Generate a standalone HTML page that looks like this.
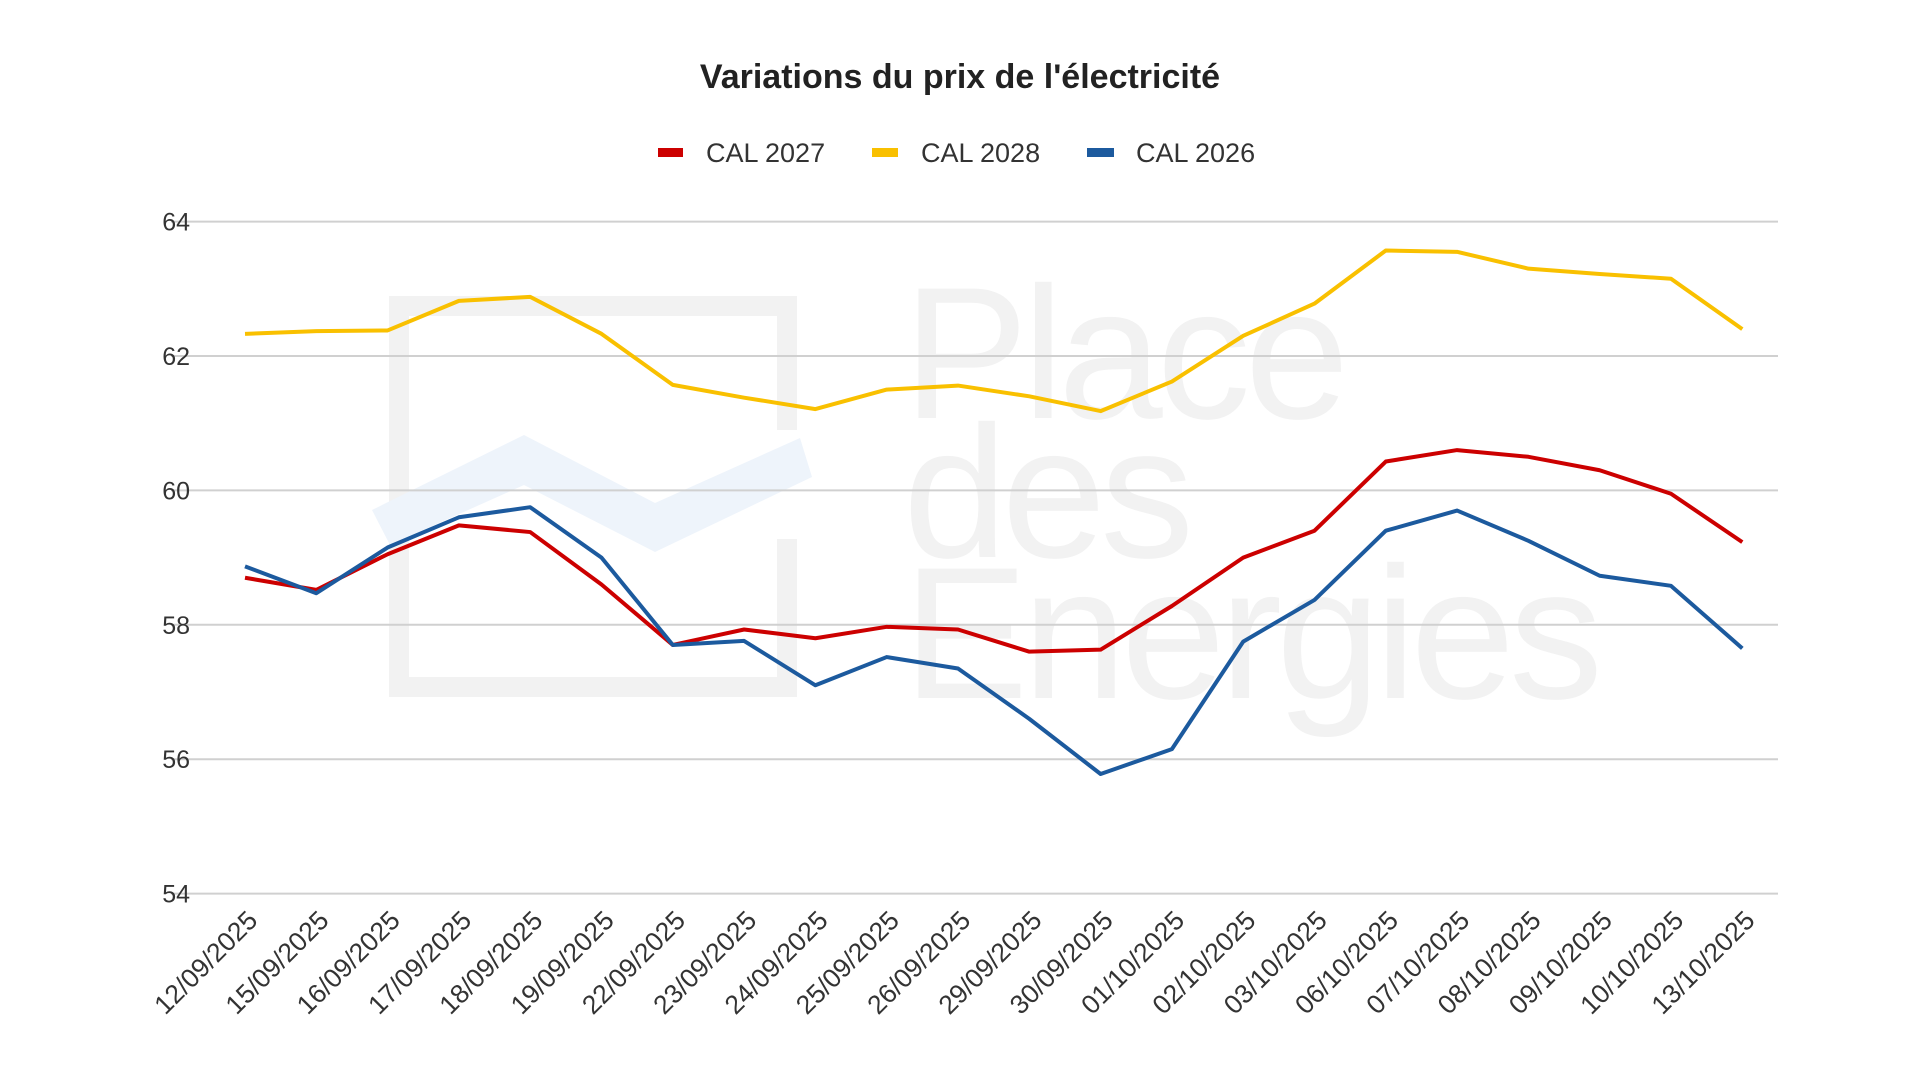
<!DOCTYPE html>
<html><head><meta charset="utf-8"><style>
html,body{margin:0;padding:0;background:#fff;width:1920px;height:1080px;overflow:hidden}
svg{display:block;font-family:"Liberation Sans",Arial,sans-serif}
</style></head><body>
<svg id="c" width="1920" height="1080" viewBox="0 0 1920 1080">
<rect width="1920" height="1080" fill="#fff"/>
<g>
<path d="M787 430 V306 H399 V687 H787 V539" fill="none" stroke="#f2f2f2" stroke-width="20"/>
<path d="M372 510 L524 435 L655 503 L800 438 L812 477 L655 552 L524 485 L390 545 Z" fill="#eef4fb"/>
<text x="903" y="418" font-size="188" fill="#f2f2f2" letter-spacing="-6">Place</text>
<text x="903" y="557" font-size="188" fill="#f2f2f2" letter-spacing="-6">des</text>
<text x="903" y="698" font-size="188" fill="#f2f2f2" letter-spacing="-6">Energies</text>
</g>
<text x="960" y="88" text-anchor="middle" font-size="34" font-weight="bold" fill="#222">Variations du prix de l'électricité</text>
<rect x="658" y="148" width="25" height="9" fill="#cc0000"/>
<text x="706" y="162" font-size="27" fill="#333">CAL 2027</text>
<rect x="872" y="148" width="26" height="9" fill="#f9c000"/>
<text x="921" y="162" font-size="27" fill="#333">CAL 2028</text>
<rect x="1087" y="148" width="27" height="9" fill="#1c5a9e"/>
<text x="1136" y="162" font-size="27" fill="#333">CAL 2026</text>
<g id="grid"></g>
<g id="series"></g>
<g id="xl"></g>
</svg>
<script>
const y=v=>221.6+(64-v)*67.2, x=i=>245+i*71.3;
const ns="http://www.w3.org/2000/svg";
const g=document.getElementById('grid');
for(let v=54;v<=64;v+=2){
 const l=document.createElementNS(ns,'line');
 l.setAttribute('x1',171);l.setAttribute('x2',1778);l.setAttribute('y1',y(v));l.setAttribute('y2',y(v));
 l.setAttribute('stroke','#d0d0d0');l.setAttribute('stroke-width',2);g.appendChild(l);
 const t=document.createElementNS(ns,'text');t.setAttribute('x',190);t.setAttribute('y',y(v)+9);
 t.setAttribute('text-anchor','end');t.setAttribute('font-size',25);t.setAttribute('fill','#333');t.textContent=v;g.appendChild(t);
}
const d={
"#f9c000":[62.33,62.37,62.38,62.82,62.88,62.33,61.57,61.38,61.21,61.5,61.56,61.4,61.18,61.62,62.3,62.78,63.57,63.55,63.3,63.22,63.15,62.4],
"#cc0000":[58.7,58.52,59.05,59.48,59.38,58.6,57.7,57.93,57.8,57.97,57.93,57.6,57.63,58.28,59.0,59.4,60.43,60.6,60.5,60.3,59.95,59.23],
"#1c5a9e":[58.87,58.47,59.15,59.6,59.75,59.0,57.7,57.76,57.1,57.52,57.35,56.6,55.78,56.15,57.75,58.37,59.4,59.7,59.25,58.73,58.58,57.65]};
const s=document.getElementById('series');
for(const c in d){const p=document.createElementNS(ns,'polyline');
 p.setAttribute('points',d[c].map((v,i)=>x(i)+','+y(v)).join(' '));
 p.setAttribute('fill','none');p.setAttribute('stroke',c);p.setAttribute('stroke-width',4);p.setAttribute('stroke-linejoin','round');s.appendChild(p);}
const labs=["12/09/2025","15/09/2025","16/09/2025","17/09/2025","18/09/2025","19/09/2025","22/09/2025","23/09/2025","24/09/2025","25/09/2025","26/09/2025","29/09/2025","30/09/2025","01/10/2025","02/10/2025","03/10/2025","06/10/2025","07/10/2025","08/10/2025","09/10/2025","10/10/2025","13/10/2025"];
const xl=document.getElementById('xl');
labs.forEach((L,i)=>{const t=document.createElementNS(ns,'text');const X=x(i)+14,Y=922;
 t.setAttribute('x',X);t.setAttribute('y',Y);t.setAttribute('text-anchor','end');t.setAttribute('font-size',26.5);t.setAttribute('fill','#333');
 t.setAttribute('transform',`rotate(-45 ${X} ${Y})`);t.textContent=L;xl.appendChild(t);});
</script>
</body></html>
